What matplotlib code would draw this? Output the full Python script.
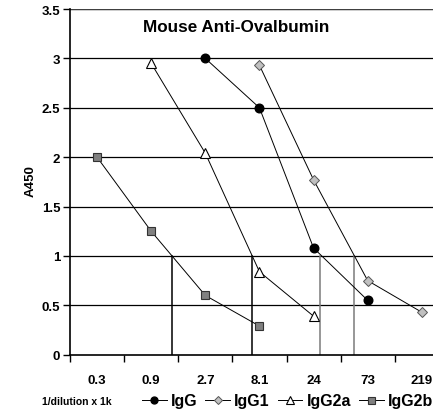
import numpy as np
import matplotlib
matplotlib.use("Agg")
import matplotlib.pyplot as plt

# dilution categories (1/dilution x 1k)
dilutions = ["0.3", "0.9", "2.7", "8.1", "24", "73", "219"]

# A450 readings, indexed by category position
igg_pos = [2, 3, 4, 5]
igg = [3.0, 2.5, 1.08, 0.55]
igg1_pos = [3, 4, 5, 6]
igg1 = [2.93, 1.77, 0.75, 0.43]
igg2a_pos = [1, 2, 3, 4]
igg2a = [2.95, 2.04, 0.84, 0.39]
igg2b_pos = [0, 1, 2, 3]
igg2b = [2.0, 1.25, 0.60, 0.29]

# end-point titer markers (category position where A450 = 1)
cutoff = 1.0
titer_pos = [1.38, 2.865, 4.117, 4.746]
titer_col = ["black", "black", "#7a7a7a", "#7a7a7a"]

plt.rcParams["font.family"] = ["Liberation Sans", "DejaVu Sans"]
plt.rcParams["font.weight"] = "bold"

fig = plt.figure(figsize=(4.33, 4.14), dpi=100)
ax = fig.add_axes([0.1617, 0.1408, 0.875, 0.835])

for y in np.arange(0.5, 3.51, 0.5):
    ax.axhline(y, color="black", lw=0.9, zorder=1)
ax.axhline(3.5, color="#404040", lw=1.6, zorder=1)

for x, c in zip(titer_pos, titer_col):
    ax.plot([x, x], [0, cutoff], color=c, lw=1.1, zorder=1)

line_kw = dict(color="black", lw=0.7, zorder=3)
ax.plot(igg_pos, igg, marker="o", ms=6.2, mfc="black", mec="black",
        label="IgG", **line_kw)
ax.plot(igg1_pos, igg1, marker="D", ms=5.2, mfc="#c0c0c0", mec="#555555",
        mew=0.7, label="IgG1", **line_kw)
ax.plot(igg2a_pos, igg2a, marker="^", ms=7.5, mfc="white", mec="black",
        mew=0.8, label="IgG2a", **line_kw)
ax.plot(igg2b_pos, igg2b, marker="s", ms=6.3, mfc="#808080", mec="#333333",
        mew=0.8, label="IgG2b", **line_kw)

ax.set_xlim(-0.5, 6.5)
ax.set_ylim(0, 3.5)
ax.set_yticks(np.arange(0, 3.51, 0.5))
ax.set_yticklabels(["0", "0.5", "1", "1.5", "2", "2.5", "3", "3.5"])
ax.set_xticks(np.arange(len(dilutions)))
ax.set_xticklabels(dilutions)
ax.set_xticks(np.arange(-0.5, len(dilutions), 1.0), minor=True)
ax.tick_params(axis="x", which="major", length=0, pad=14, labelsize=9.5)
ax.tick_params(axis="x", which="minor", length=5, width=1, direction="out")
ax.tick_params(axis="y", length=5, width=1, labelsize=9.5, pad=2)
for lbl in ax.get_xticklabels() + ax.get_yticklabels():
    lbl.set_fontweight("bold")

for s in ["top", "right"]:
    ax.spines[s].set_visible(False)
ax.spines["left"].set_linewidth(1.2)
ax.spines["bottom"].set_linewidth(1.2)

fig.text(236 / 433, 1 - 27 / 414, "Mouse Anti-Ovalbumin", ha="center",
         va="center", fontsize=12.3, fontweight="bold")
fig.text(31 / 433, 1 - 181 / 414, "A450", ha="center", va="center",
         rotation=90, fontsize=9.5, fontweight="bold")
fig.text(77 / 433, 1 - 402 / 414, "1/dilution x 1k", ha="center",
         va="center", fontsize=7.5, fontweight="bold")

fig.legend(loc="center left", bbox_to_anchor=(142 / 433, 1 - 402 / 414),
           ncol=4, frameon=False, handlelength=1.55, handletextpad=0.25,
           columnspacing=0.5, borderaxespad=0, borderpad=0, markerscale=0.8,
           prop=dict(size=11.5, weight="bold"))

fig.savefig("out.png", dpi=100)
